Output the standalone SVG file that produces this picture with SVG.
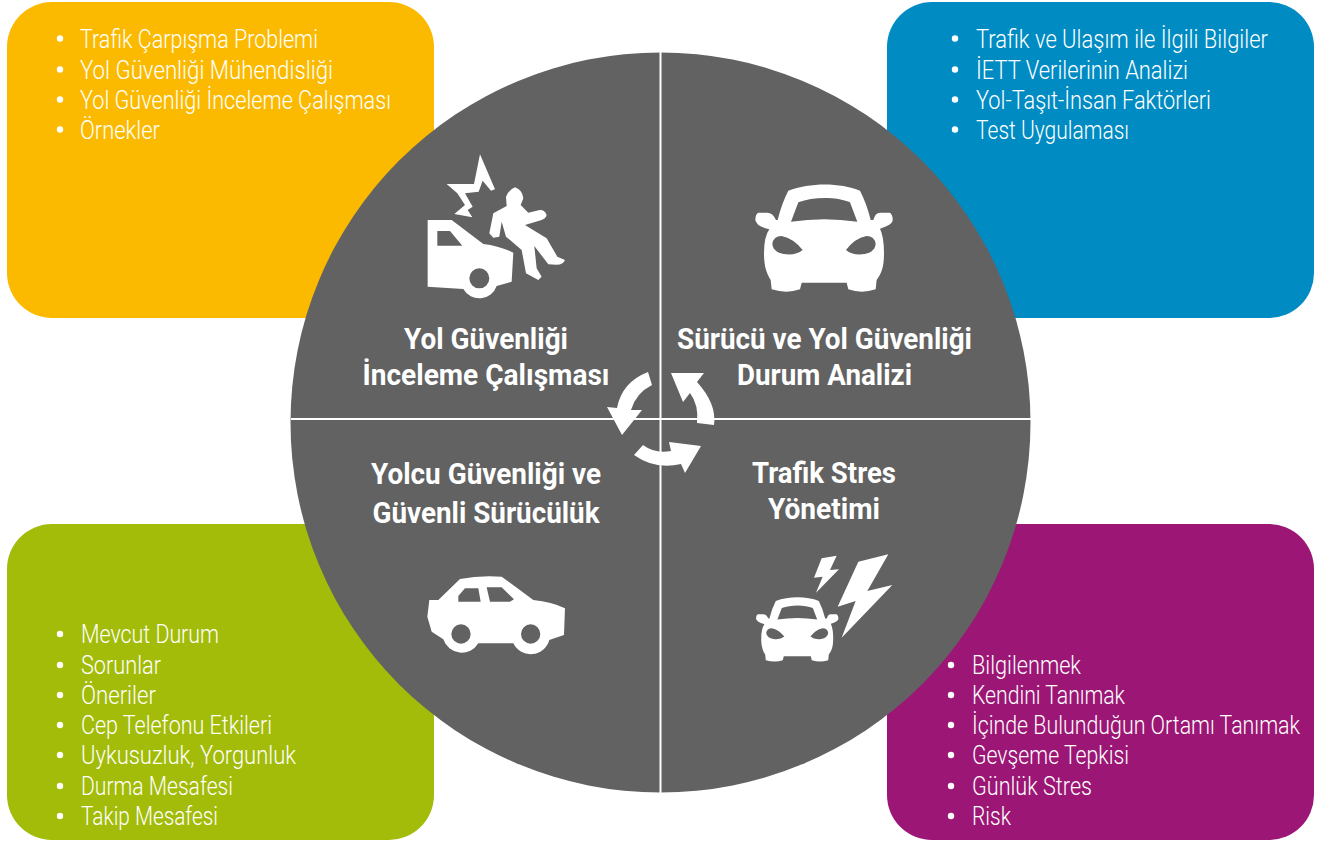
<svg xmlns="http://www.w3.org/2000/svg" xmlns:xlink="http://www.w3.org/1999/xlink" width="1319" height="843" viewBox="0 0 1319 843">
<style>
.li{font-family:"Roboto","Liberation Sans",sans-serif;font-weight:300;font-size:26px;fill:#fff}
.h{font-family:"Roboto","Liberation Sans",sans-serif;font-weight:700;font-size:29px;fill:#fff;text-anchor:middle}
.ic{fill:#fff;fill-rule:evenodd}
.sep{stroke:#fff;stroke-width:2;fill:none}
.b{fill:#fff}
</style>
<defs>
<path id="frontcar" class="ic" d="M175 62C240 37 330 37 390 62Q410 100 422 150L430 150Q436 128 450 128L480 128Q489 135 488 152Q485 165 450 176Q462 200 462 250C462 290 455 310 440 330L437 358Q395 372 355 358L350 338H215L210 358Q170 372 125 358L122 330C110 310 102 290 102 250Q102 200 118 178Q80 170 76 150Q76 132 85 128L112 128Q128 128 138 150L143 150Q155 100 175 62ZM205 97C250 80 320 80 360 97L382 155Q283 140 183 155ZM127 222Q130 198 155 198Q190 205 218 240Q200 255 170 253Q130 250 127 222ZM437 222Q434 198 409 198Q374 205 348 240Q365 255 395 253Q434 250 437 222Z"/>
</defs>
<g id="box-yellow"><rect x="7" y="2" width="427" height="316" rx="45" fill="#fbba00"/>
<circle class="b" cx="60" cy="38.5" r="3.2"/><circle class="b" cx="60" cy="69.5" r="3.2"/><circle class="b" cx="60" cy="99.5" r="3.2"/><circle class="b" cx="60" cy="129.5" r="3.2"/>
<text class="li" x="80" y="48" textLength="238" lengthAdjust="spacingAndGlyphs">Trafik Çarpışma Problemi</text>
<text class="li" x="80" y="78.5" textLength="253" lengthAdjust="spacingAndGlyphs">Yol Güvenliği Mühendisliği</text>
<text class="li" x="80" y="109" textLength="311" lengthAdjust="spacingAndGlyphs">Yol Güvenliği İnceleme Çalışması</text>
<text class="li" x="80" y="139" textLength="80" lengthAdjust="spacingAndGlyphs">Örnekler</text></g>
<g id="box-blue"><rect x="887" y="2" width="427" height="316" rx="45" fill="#008bc3"/>
<circle class="b" cx="955" cy="38.5" r="3.2"/><circle class="b" cx="955" cy="69.5" r="3.2"/><circle class="b" cx="955" cy="99.5" r="3.2"/><circle class="b" cx="955" cy="129.5" r="3.2"/>
<text class="li" transform="translate(976 48) scale(.8 1)" textLength="365" lengthAdjust="spacingAndGlyphs">Trafik ve Ulaşım ile İlgili Bilgiler</text>
<text class="li" x="976" y="78.5" textLength="212" lengthAdjust="spacingAndGlyphs">İETT Verilerinin Analizi</text>
<text class="li" x="976" y="109" textLength="235" lengthAdjust="spacingAndGlyphs">Yol-Taşıt-İnsan Faktörleri</text>
<text class="li" x="976" y="139" textLength="153" lengthAdjust="spacingAndGlyphs">Test Uygulaması</text></g>
<g id="box-green"><rect x="7" y="524" width="427" height="316" rx="45" fill="#a2bc09"/>
<circle class="b" cx="60" cy="634" r="3.2"/><circle class="b" cx="60" cy="665" r="3.2"/><circle class="b" cx="60" cy="695" r="3.2"/><circle class="b" cx="60" cy="725" r="3.2"/><circle class="b" cx="60" cy="755" r="3.2"/><circle class="b" cx="60" cy="786" r="3.2"/><circle class="b" cx="60" cy="816" r="3.2"/>
<text class="li" x="81" y="643" textLength="138" lengthAdjust="spacingAndGlyphs">Mevcut Durum</text>
<text class="li" x="81" y="674" textLength="80" lengthAdjust="spacingAndGlyphs">Sorunlar</text>
<text class="li" x="81" y="704" textLength="75" lengthAdjust="spacingAndGlyphs">Öneriler</text>
<text class="li" x="81" y="734" textLength="191" lengthAdjust="spacingAndGlyphs">Cep Telefonu Etkileri</text>
<text class="li" x="81" y="764" textLength="215" lengthAdjust="spacingAndGlyphs">Uykusuzluk, Yorgunluk</text>
<text class="li" x="81" y="795" textLength="152" lengthAdjust="spacingAndGlyphs">Durma Mesafesi</text>
<text class="li" x="81" y="825" textLength="137" lengthAdjust="spacingAndGlyphs">Takip Mesafesi</text></g>
<g id="box-purple"><rect x="887" y="524" width="427" height="316" rx="45" fill="#9c1675"/>
<circle class="b" cx="951" cy="665" r="3.2"/><circle class="b" cx="951" cy="695" r="3.2"/><circle class="b" cx="951" cy="725" r="3.2"/><circle class="b" cx="951" cy="755" r="3.2"/><circle class="b" cx="951" cy="786" r="3.2"/><circle class="b" cx="951" cy="816" r="3.2"/>
<text class="li" x="972" y="674" textLength="109" lengthAdjust="spacingAndGlyphs">Bilgilenmek</text>
<text class="li" x="972" y="704" textLength="153" lengthAdjust="spacingAndGlyphs">Kendini Tanımak</text>
<text class="li" transform="translate(972 734) scale(.8 1)" textLength="410" lengthAdjust="spacingAndGlyphs">İçinde Bulunduğun Ortamı Tanımak</text>
<text class="li" x="972" y="764" textLength="157" lengthAdjust="spacingAndGlyphs">Gevşeme Tepkisi</text>
<text class="li" x="972" y="795" textLength="120" lengthAdjust="spacingAndGlyphs">Günlük Stres</text>
<text class="li" x="972" y="825" textLength="39" lengthAdjust="spacingAndGlyphs">Risk</text></g>
<g id="wheel"><circle cx="660.5" cy="422.5" r="370" fill="#626262"/>
<path class="sep" d="M660.5 52V793M291 419H1031"/></g>
<g id="connectors">
<path class="ic" d="M648 372Q622 382 617 408L607 407L622 435L642 410L631 410Q636 393 652 385Z"/>
<path class="ic" d="M714 425Q717 404 697 382L704 373L671 373L683 402L690 393Q699 405 697 423Z"/>
<path class="ic" d="M634 455L643 445Q655 454 671 451L669 442L701 446L685 473L681 464Q655 470 634 455Z"/>
</g>
<g id="node-crash"><g transform="translate(400 140) scale(.3333)">
<path class="ic" d="M240 43L285 148L273 152L248 122L236 155L195 160L218 200L203 210L217 232L163 222L195 195L172 160L140 132L222 132Z"/>
<path class="ic" d="M83 240H155L250 312Q300 318 340 338L335 425L290 438A55 55 0 0 1 190 447L83 440ZM112 273H150L187 317H112ZM268 415A30 30 0 1 0 208 415A30 30 0 1 0 268 415Z"/>
<path class="ic" d="M345 142Q368 150 370 175L362 195L385 218L410 212Q432 204 440 225Q438 235 425 240L375 255L440 295L472 350L495 360Q490 374 470 374L445 373L403 318L410 385L425 410L415 420L378 400L365 330L318 290L305 245L298 290L280 293L268 280L280 220L320 198L318 170Q325 150 345 142Z"/>
</g>
<text class="h" x="486" y="348.5" textLength="164" lengthAdjust="spacingAndGlyphs">Yol Güvenliği</text>
<text class="h" x="486" y="384.5" textLength="247" lengthAdjust="spacingAndGlyphs">İnceleme Çalışması</text></g>
<g id="node-driver"><use xlink:href="#frontcar" href="#frontcar" transform="translate(730 170) scale(.3333)"/>
<text class="h" x="824.5" y="348.5" textLength="295" lengthAdjust="spacingAndGlyphs">Sürücü ve Yol Güvenliği</text>
<text class="h" x="824.5" y="384.5" textLength="175" lengthAdjust="spacingAndGlyphs">Durum Analizi</text></g>
<g id="node-passenger">
<text class="h" x="486" y="483.5" textLength="230" lengthAdjust="spacingAndGlyphs">Yolcu Güvenliği ve</text>
<text class="h" x="486" y="522.5" textLength="227" lengthAdjust="spacingAndGlyphs">Güvenli Sürücülük</text>
<path class="ic" transform="translate(410 560) scale(.3333)" d="M52 170L58 120H85L150 57Q210 45 275 50L370 120Q425 125 465 145L462 225L418 240A58 58 0 0 1 310 250L205 250A58 58 0 0 1 100 238L65 215ZM165 85H205L212 125H145V108ZM230 82H275L312 118L300 125H240ZM182 222A29 29 0 1 0 124 222A29 29 0 1 0 182 222ZM391 222A29 29 0 1 0 333 222A29 29 0 1 0 391 222Z"/></g>
<g id="node-stress">
<text class="h" x="824" y="482.5" textLength="144" lengthAdjust="spacingAndGlyphs">Trafik Stres</text>
<text class="h" x="824" y="518.5" textLength="112" lengthAdjust="spacingAndGlyphs">Yönetimi</text>
<use xlink:href="#frontcar" href="#frontcar" transform="translate(740.8 588.6) scale(.2)"/>
<g transform="translate(740 540) scale(.3333)">
<path class="ic" d="M290 47L270 90L297 88L228 158L248 110L222 113L245 55Z"/>
<path class="ic" d="M445 43L382 153L457 135L305 293L347 183L293 200L355 65Z"/></g></g>
</svg>
